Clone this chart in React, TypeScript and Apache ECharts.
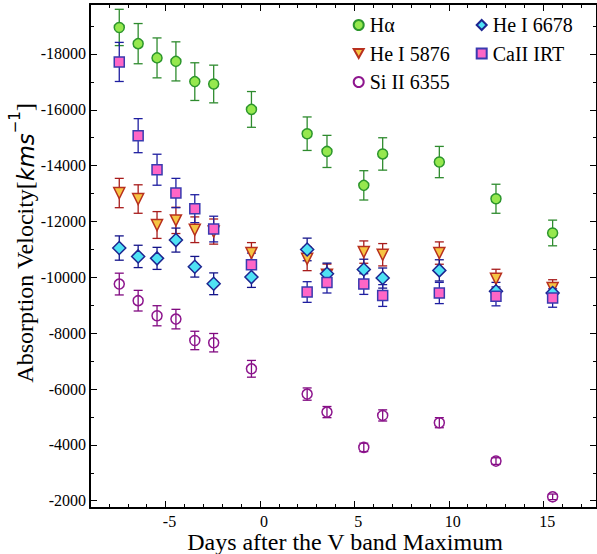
import React, { useEffect, useRef } from "react";
import * as echarts from "echarts";

const days = [-7.45, -6.45, -5.45, -4.45, -3.45, -2.45, -0.45, 2.5, 3.55, 5.5, 6.5, 9.5, 12.5, 15.5];

const hAlpha = [-18950, -18370, -17860, -17735, -17010, -16925, -16015, -15145, -14510, -13295, -14420, -14130, -12815, -11590];
const hAlphaErr = [650, 720, 715, 700, 675, 675, 640, 600, 575, 525, 580, 560, 520, 460];

const he5876 = [-13020, -12805, -11875, -12040, -11705, -11640, -10870, -10665, -10095, -10905, -10810, -10870, -9950, -9615];
const he5876Err = [525, 510, 480, 470, 460, 450, 375, 425, 380, 400, 400, 400, 340, 300];

const si6355 = [-9760, -9165, -8625, -8505, -7740, -7660, -6725, -5820, -5175, -3910, -5055, -4795, -3420, -2140];
const si6355Err = [390, 370, 360, 350, 330, 330, 300, 220, 200, 150, 200, 180, 120, 100];

const he6678 = [-11050, -10750, -10680, -11335, -10380, -9770, -10010, -11000, -10130, -10280, -9975, -10250, -9500, -9440];
const he6678Err = [435, 400, 395, 430, 370, 390, 370, 405, 380, 370, 360, 380, 320, 310];

const caIRT = [-17715, -15075, -13855, -13020, -12460, -11730, -10450, -9475, -9820, -9760, -9350, -9440, -9320, -9260];
const caIRTErr = [700, 610, 555, 525, 500, 460, 420, 370, 380, 370, 390, 380, 340, 330];

const xMajor = [-5, 0, 5, 10, 15];
const xMinor = [-9, -8, -7, -6, -5, -4, -3, -2, -1, 0, 1, 2, 3, 4, 5, 6, 7, 8, 9, 10, 11, 12, 13, 14, 15, 16, 17];
const yMajor = [-18000, -16000, -14000, -12000, -10000, -8000, -6000, -4000, -2000];
const yMinor = [-19000, -18000, -17000, -16000, -15000, -14000, -13000, -12000, -11000, -10000, -9000, -8000, -7000, -6000, -5000, -4000, -3000, -2000];

const xTitle = "Days after the V band Maximum";

const X_MIN = -9;
const X_MAX = 17.85;
const Y_MIN = -19790;
const Y_MAX = -1740;

const SERIF = "Liberation Serif";

type SeriesDef = {
  name: string;
  values: number[];
  errs: number[];
  symbol: string;
  size: number;
  fill: string;
  border: string;
  errColor: string;
};

const seriesDefs: SeriesDef[] = [
  { name: "Hα", values: hAlpha, errs: hAlphaErr, symbol: "circle", size: 10, fill: "#96e84e", border: "#2c962c", errColor: "#2e8b2e" },
  { name: "He I 5876", values: he5876, errs: he5876Err, symbol: "path://M0,0 L10,0 L5,9 Z", size: 11, fill: "#f6c443", border: "#b8301e", errColor: "#a81c1c" },
  { name: "Si II 6355", values: si6355, errs: si6355Err, symbol: "circle", size: 10, fill: "transparent", border: "#8e168e", errColor: "#800a80" },
  { name: "He I 6678", values: he6678, errs: he6678Err, symbol: "diamond", size: 13, fill: "#4fe2f4", border: "#1c2590", errColor: "#14148a" },
  { name: "CaII IRT", values: caIRT, errs: caIRTErr, symbol: "rect", size: 10, fill: "#ff66c6", border: "#3a3ab0", errColor: "#1e1ea0" },
];

export default function App() {
  const ref = useRef<HTMLDivElement>(null);

  useEffect(() => {
    if (!ref.current) return;
    const chart = echarts.init(ref.current, null, { renderer: "svg" });

    const series: any[] = [];
    seriesDefs.forEach((d) => {
      series.push({
        name: d.name + " err",
        type: "custom",
        xAxisIndex: 0,
        yAxisIndex: 0,
        silent: true,
        data: days.map((x, i) => [x, d.values[i] - d.errs[i], d.values[i] + d.errs[i]]),
        renderItem: (params: any, api: any) => {
          const x = api.value(0);
          const lo = api.coord([x, api.value(1)]);
          const hi = api.coord([x, api.value(2)]);
          const cap = 4.5;
          const style = { stroke: d.errColor, lineWidth: 1.3 };
          return {
            type: "group",
            children: [
              { type: "line", shape: { x1: lo[0], y1: lo[1], x2: hi[0], y2: hi[1] }, style },
              { type: "line", shape: { x1: lo[0] - cap, y1: lo[1], x2: lo[0] + cap, y2: lo[1] }, style },
              { type: "line", shape: { x1: hi[0] - cap, y1: hi[1], x2: hi[0] + cap, y2: hi[1] }, style },
            ],
          };
        },
      });
      series.push({
        name: d.name,
        type: "scatter",
        xAxisIndex: 0,
        yAxisIndex: 0,
        symbol: d.symbol,
        symbolSize: d.size,
        data: days.map((x, i) => [x, d.values[i]]),
        itemStyle: { color: d.fill, borderColor: d.border, borderWidth: 1.5, opacity: 1 },
      });
    });

    const axisLineStyle = { color: "#000", width: 2 };
    const tickStyle = { color: "#000", width: 1 };
    const line = (show: boolean) => ({ show, onZero: false, lineStyle: axisLineStyle });

    const legendText = { fontFamily: SERIF, fontSize: 20, color: "#000", lineHeight: 20, padding: [0, 0, 0, 1] };

    const option: any = {
      animation: false,
      backgroundColor: "#fff",
      grid: { left: 90, right: 0, top: 4, bottom: 46, outerBoundsMode: "none" },
      xAxis: [
        {
          type: "value", min: X_MIN, max: X_MAX, position: "bottom",
          axisLine: line(true),
          axisTick: { show: true, inside: true, length: 7, customValues: xMajor, lineStyle: tickStyle },
          axisLabel: { show: true, customValues: xMajor, formatter: (v: number) => String(v), fontFamily: SERIF, fontSize: 16, color: "#000", margin: 5, padding: [0, 0, 0, 8] },
          splitLine: { show: false },
        },
        {
          type: "value", min: X_MIN, max: X_MAX, position: "bottom",
          axisLine: line(false),
          axisTick: { show: true, inside: true, length: 4, customValues: xMinor, lineStyle: tickStyle },
          axisLabel: { show: false }, splitLine: { show: false },
        },
        {
          type: "value", min: X_MIN, max: X_MAX, position: "top",
          axisLine: line(true),
          axisTick: { show: true, inside: true, length: 7, customValues: xMajor, lineStyle: tickStyle },
          axisLabel: { show: false }, splitLine: { show: false },
        },
        {
          type: "value", min: X_MIN, max: X_MAX, position: "top",
          axisLine: line(false),
          axisTick: { show: true, inside: true, length: 4, customValues: xMinor, lineStyle: tickStyle },
          axisLabel: { show: false }, splitLine: { show: false },
        },
      ],
      yAxis: [
        {
          type: "value", min: Y_MIN, max: Y_MAX, inverse: true, position: "left",
          axisLine: line(true),
          axisTick: { show: true, inside: true, length: 7, customValues: yMajor, lineStyle: tickStyle },
          axisLabel: { show: true, customValues: yMajor, formatter: (v: number) => String(Math.round(v)), fontFamily: SERIF, fontSize: 16, color: "#000", margin: 4 },
          splitLine: { show: false },
        },
        {
          type: "value", min: Y_MIN, max: Y_MAX, inverse: true, position: "left",
          axisLine: line(false),
          axisTick: { show: true, inside: true, length: 4, customValues: yMinor, lineStyle: tickStyle },
          axisLabel: { show: false }, splitLine: { show: false },
        },
        {
          type: "value", min: Y_MIN, max: Y_MAX, inverse: true, position: "right",
          axisLine: line(true),
          axisTick: { show: true, inside: true, length: 7, customValues: yMajor, lineStyle: tickStyle },
          axisLabel: { show: false }, splitLine: { show: false },
        },
        {
          type: "value", min: Y_MIN, max: Y_MAX, inverse: true, position: "right",
          axisLine: line(false),
          axisTick: { show: true, inside: true, length: 4, customValues: yMinor, lineStyle: tickStyle },
          axisLabel: { show: false }, splitLine: { show: false },
        },
      ],
      legend: [
        {
          data: ["Hα", "He I 5876", "Si II 6355"],
          orient: "vertical", left: 347.7, top: 10,
          itemWidth: 10, itemHeight: 10, itemGap: 8.5,
          textStyle: legendText,
        },
        {
          data: ["He I 6678", "CaII IRT"],
          orient: "vertical", left: 470.7, top: 10,
          itemWidth: 10, itemHeight: 10, itemGap: 8.5,
          textStyle: legendText,
        },
      ],
      graphic: [
        {
          type: "text",
          x: 22,
          y: 243,
          rotation: Math.PI / 2,
          style: {
            text: "{a|Absorption Velocity[}{i|kms}{s|−1}{a|]}",
            align: "center",
            verticalAlign: "middle",
            rich: {
              a: { fontFamily: SERIF, fontSize: 24, fill: "#000", lineHeight: 30, verticalAlign: "bottom" },
              i: { fontFamily: "DejaVu Sans", fontStyle: "italic", fontSize: 23, fill: "#000", lineHeight: 30, verticalAlign: "bottom" },
              s: { fontFamily: "DejaVu Sans", fontSize: 15, fill: "#000", verticalAlign: "top" },
            },
          },
        },
        {
          type: "text",
          x: 345,
          y: 542,
          style: {
            text: xTitle,
            fontFamily: SERIF,
            fontSize: 24,
            fill: "#000",
            align: "center",
            verticalAlign: "middle",
          },
        },
      ],
      series,
    };

    chart.setOption(option);
    return () => chart.dispose();
  }, []);

  return <div ref={ref} style={{ position: "fixed", left: 0, top: 0, width: 597, height: 554 }} />;
}
